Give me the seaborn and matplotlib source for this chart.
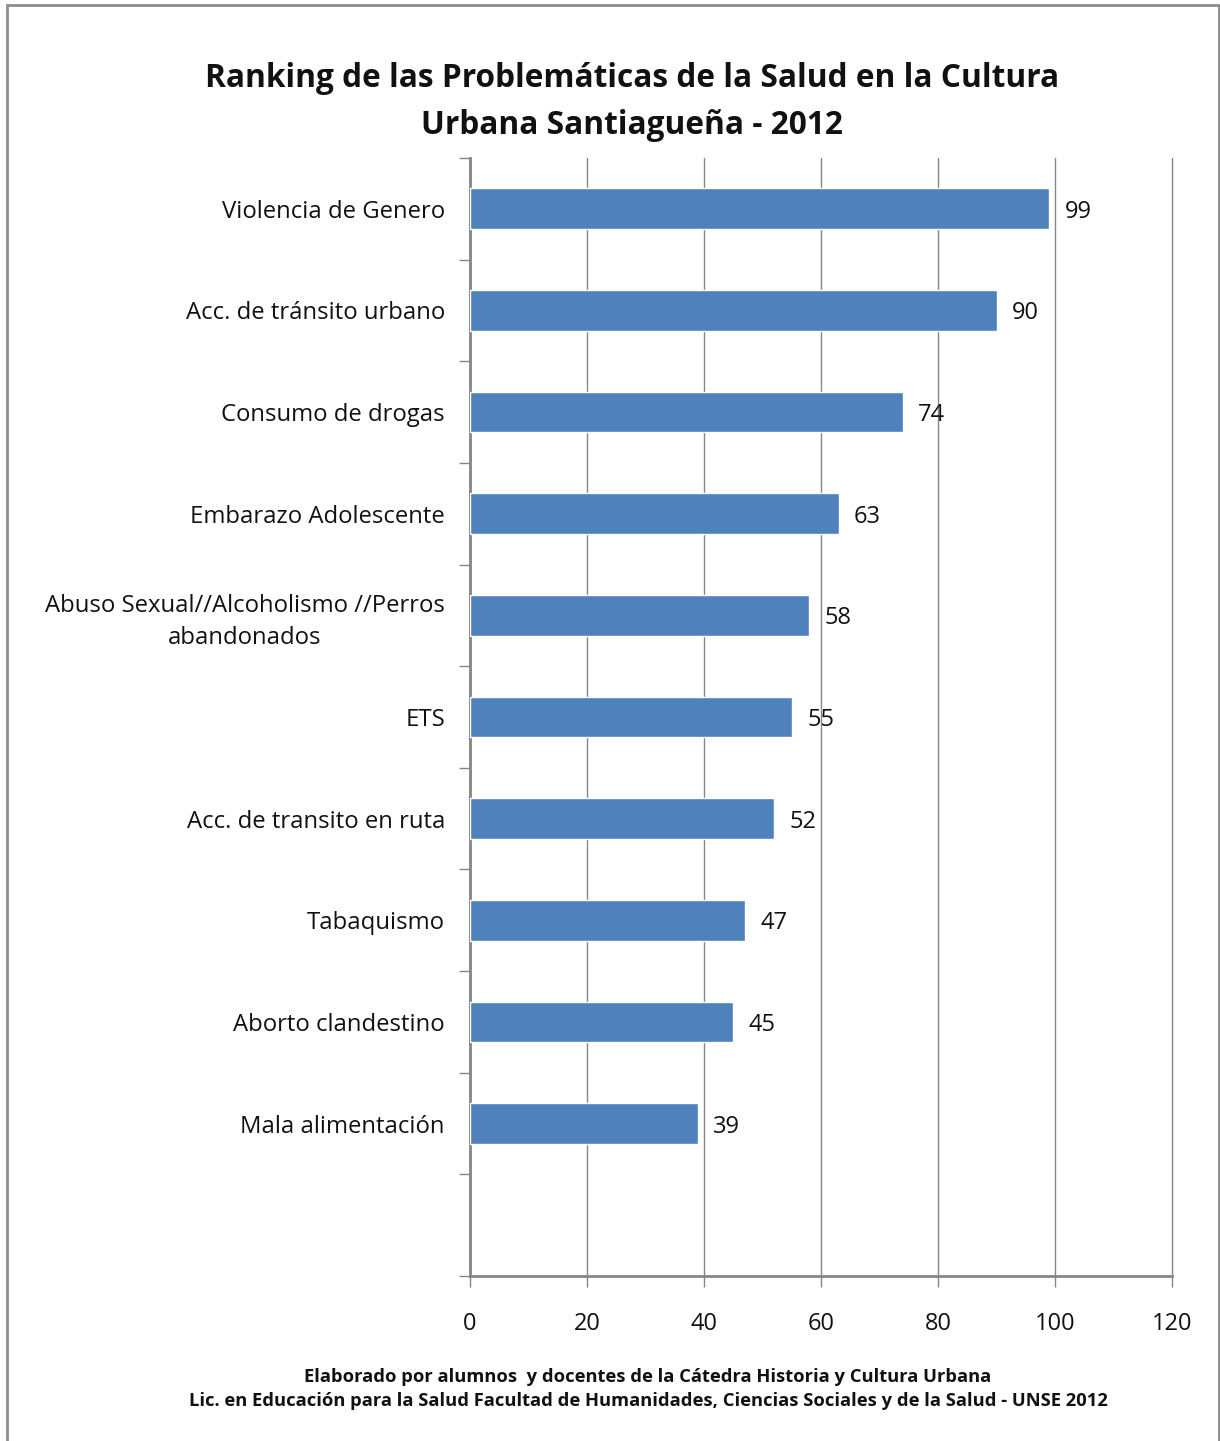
import matplotlib
matplotlib.use("Agg")
import matplotlib.pyplot as plt
import seaborn as sns
import pandas as pd
from matplotlib.patches import Rectangle

categories = [
    "Violencia de Genero",
    "Acc. de tránsito urbano",
    "Consumo de drogas",
    "Embarazo Adolescente",
    "Abuso Sexual//Alcoholismo //Perros\nabandonados",
    "ETS",
    "Acc. de transito en ruta",
    "Tabaquismo",
    "Aborto clandestino",
    "Mala alimentación",
]
values = [99, 90, 74, 63, 58, 55, 52, 47, 45, 39]
x_ticks = [0, 20, 40, 60, 80, 100, 120]

title = "Ranking de las Problemáticas de la Salud en la Cultura\nUrbana Santiagueña - 2012"
caption = ("Elaborado por alumnos  y docentes de la Cátedra Historia y Cultura Urbana\n"
           "Lic. en Educación para la Salud Facultad de Humanidades, Ciencias Sociales y de la Salud - UNSE 2012")

df = pd.DataFrame({"problema": categories, "valor": values})

sns.set_style("white")
plt.rcParams["font.family"] = ["Open Sans", "DejaVu Sans"]

fig = plt.figure(figsize=(12.2, 14.41), dpi=100)
ax = fig.add_axes([470 / 1220, 1 - 1276 / 1441, 702 / 1220, (1276 - 158) / 1441])

sns.barplot(data=df, x="valor", y="problema", orient="h", color="#4f81bd",
            width=0.4, saturation=1, ax=ax, zorder=3)

# one empty slot below the last bar, as in the original
ax.set_ylim(len(categories) - 0.5 + 1, -0.5)
ax.set_xlim(0, 120)
ax.set_xticks(x_ticks)
ax.set_xlabel("")
ax.set_ylabel("")

grid_col = "#868686"
ax.grid(axis="x", color=grid_col, linewidth=1, zorder=0)
for gl in ax.get_xgridlines():
    gl.set_clip_on(False)
ax.set_axisbelow(True)
for s in ["top", "right"]:
    ax.spines[s].set_visible(False)
for s in ["left", "bottom"]:
    ax.spines[s].set_color(grid_col)
    ax.spines[s].set_linewidth(2)

ax.tick_params(axis="y", which="major", left=True, length=0, pad=18, labelsize=17.2,
               labelcolor="#111111")
ax.set_yticks([i - 0.5 for i in range(len(categories) + 2)], minor=True)
ax.tick_params(axis="y", which="minor", left=True, length=8, width=1, color=grid_col,
               direction="out")
ax.tick_params(axis="x", bottom=True, length=8, width=1, color=grid_col, direction="out",
               pad=18, labelsize=17, labelcolor="#111111")
for lbl in ax.get_yticklabels():
    lbl.set_ha("right")
    lbl.set_multialignment("center")
    lbl.set_linespacing(1.45)

for p, v in zip(ax.patches, values):
    ax.annotate(str(v), (p.get_width(), p.get_y() + p.get_height() / 2),
                xytext=(11, 0), textcoords="offset points", va="center_baseline",
                ha="left", fontsize=17, color="#111111")

fig.text(632 / 1220, 1 - 102 / 1441, title, ha="center", va="center",
         fontsize=22.8, fontweight="bold", linespacing=1.55, color="#111111")
fig.text(648 / 1220, 1 - 1389 / 1441, caption, ha="center", va="center",
         fontsize=13.2, fontweight="bold", linespacing=1.45, color="#111111")

fig.patches.append(Rectangle((7 / 1220, -0.01), 1212 / 1220, 1.01 - 5 / 1441,
                             transform=fig.transFigure, fill=False,
                             edgecolor="#8c8c8c", linewidth=2))

fig.savefig("out.png", dpi=100)
